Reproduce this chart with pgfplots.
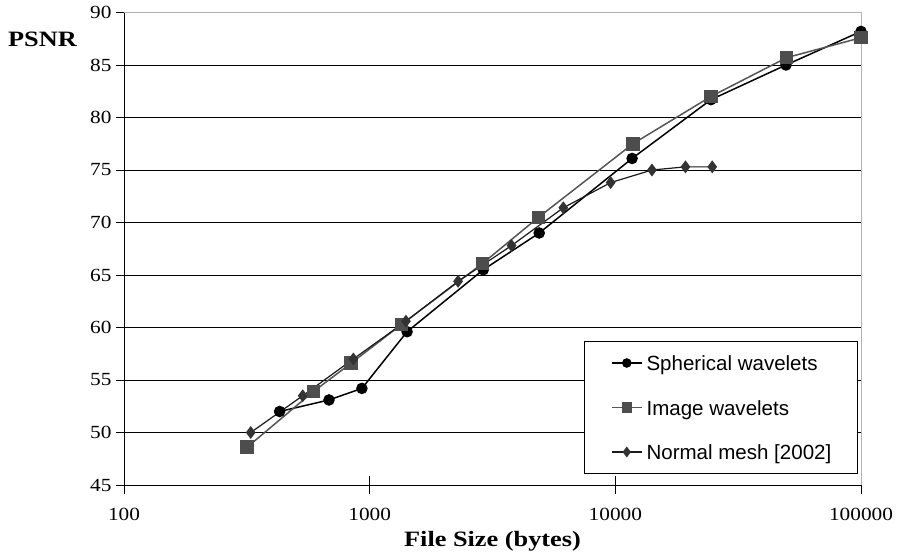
\documentclass[border=0pt]{standalone}
\usepackage{pgfplots}
\pgfplotsset{compat=1.18}
\usepackage{fontspec}
\usepackage{graphicx}
\setmainfont{Liberation Serif}
\newfontfamily\arialfont{Liberation Sans}
\definecolor{imgline}{HTML}{555555}
\definecolor{imgmark}{HTML}{4D4D4D}
\definecolor{nmline}{HTML}{1A1A1A}
\definecolor{nmmark}{HTML}{333333}
\newcommand{\tl}[1]{\scalebox{1.15}[1]{#1}}
\begin{document}
\begin{tikzpicture}
\begin{axis}[
  at={(0,0)}, anchor=south west,
  scale only axis, width=737bp, height=472.5bp,
  xmode=log, log basis x=10,
  xmin=100, xmax=100000, ymin=45, ymax=90,
  xtick={100,1000,10000,100000},
  xticklabels={\tl{100},\tl{1000},\tl{10000},\tl{100000}},
  ytick={45,50,55,60,65,70,75,80,85,90},
  yticklabel={\tl{\pgfmathprintnumber{\tick}}},
  xminorticks=false, yminorticks=false,
  ymajorgrids, grid style={black, line width=0.8bp},
  axis x line*=bottom, axis y line*=left,
  axis line style={black, line width=1bp},
  tick align=center, major tick length=17bp,
  tick style={black, line width=0.8bp},
  /pgf/number format/assume math mode=true,
  ticklabel style={font=\fontsize{18.6}{18.6}\selectfont},
  xticklabel style={yshift=-11bp},
  yticklabel style={xshift=-0.5bp},
  xlabel={\scalebox{1.2}[1]{\bfseries File Size (bytes)}},
  xlabel style={font=\fontsize{22}{22}\selectfont, at={(axis description cs:0.5,0)}, anchor=base, yshift=-61bp},
  ylabel={\scalebox{1.2}[1]{\bfseries PSNR}},
  ylabel style={font=\fontsize{22}{22}\selectfont, rotate=-90, at={(axis description cs:0,1)}, anchor=base, xshift=-81.5bp, yshift=-34bp},
  clip=false,
  legend image code/.code={\draw[mark repeat=2,mark phase=2,#1] plot coordinates {(0bp,0bp) (15bp,0bp) (30bp,0bp)};},
  legend cell align=left,
  legend style={at={(axis description cs:0.6242,0.0233)}, anchor=south west,
    draw=black, line width=1bp, fill=white,
    font=\arialfont\fontsize{20.6}{20.6}\selectfont,
    inner xsep=26.5bp, inner ysep=11.75bp, row sep=25bp,
    nodes={inner sep=0pt, text height=17.5bp, text depth=2bp},
    /tikz/every odd column/.append style={column sep=4bp}},
]
\draw[gray!60, line width=1bp] (rel axis cs:0,1) -- (rel axis cs:1,1) -- (rel axis cs:1,0);
\addplot[black, line width=1.5bp, mark=*, mark size=5bp, mark options={fill=black}, forget plot] coordinates {
 (430,52.0) (683,53.1) (930,54.2) (1420,59.6) (2900,65.5) (4900,69.0) (11700,76.1) (24500,81.7) (49500,85.0) (100000,88.2)};
\addplot[imgline, line width=1.5bp, mark=square*, mark size=6bp, mark options={fill=imgmark, draw=imgmark}, forget plot] coordinates {
 (317,48.6) (590,53.9) (840,56.6) (1350,60.3) (2880,66.1) (4870,70.5) (11800,77.5) (24500,82.0) (49800,85.7) (100000,87.6)};
\addplot[nmline, line width=1.2bp, mark=diamond*, mark size=5.5bp, mark options={fill=nmmark, draw=nmmark}, forget plot] coordinates {
 (328,50.0) (534,53.5) (858,57.0) (1405,60.6) (2290,64.4) (3780,67.8) (6140,71.4) (9570,73.8) (14100,75.0) (19300,75.3) (24800,75.3)};
\addlegendimage{black, line width=1.5bp, mark=*, mark size=4bp, mark options={fill=black}}
\addlegendentry{Spherical wavelets}
\addlegendimage{imgline, line width=1.5bp, mark=square*, mark size=4.3bp, mark options={fill=imgmark, draw=imgmark}}
\addlegendentry{Image wavelets}
\addlegendimage{nmline, line width=1.2bp, mark=diamond*, mark size=4.5bp, mark options={fill=nmmark, draw=nmmark}}
\addlegendentry{Normal mesh [2002]}
\end{axis}
\pgfresetboundingbox
\path[use as bounding box] (-124bp,-68bp) rectangle (778bp,485bp);
\end{tikzpicture}
\end{document}
